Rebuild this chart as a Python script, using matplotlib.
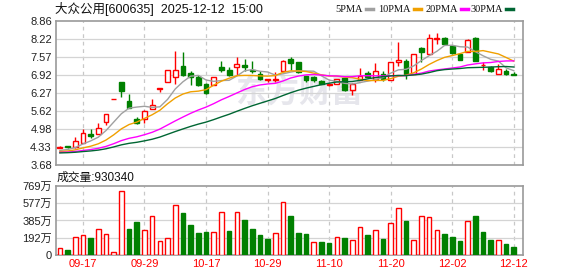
#!/usr/bin/env python3
"""Daily K-line chart for 大众公用 with moving averages and volume."""

import matplotlib
matplotlib.use('Agg')
import matplotlib.pyplot as plt
from matplotlib.lines import Line2D
import numpy as np
import pandas as pd

plt.rcParams['font.family'] = ['Liberation Sans', 'Noto Sans CJK SC']

stock_title = '大众公用[600635]  2025-12-12  15:00'

dates = ['09-12', '09-15', '09-16', '09-17', '09-18', '09-19', '09-22', '09-23',
         '09-24', '09-25', '09-26', '09-29', '09-30', '10-09', '10-10', '10-13',
         '10-14', '10-15', '10-16', '10-17', '10-20', '10-21', '10-22', '10-23',
         '10-24', '10-27', '10-28', '10-29', '10-30', '10-31', '11-03', '11-04',
         '11-05', '11-06', '11-07', '11-10', '11-11', '11-12', '11-13', '11-14',
         '11-17', '11-18', '11-19', '11-20', '11-21', '11-24', '11-25', '11-26',
         '11-27', '11-28', '12-01', '12-02', '12-03', '12-04', '12-05', '12-08',
         '12-09', '12-10', '12-11', '12-12']

opens = [4.30, 4.36, 4.32, 4.48, 4.79, 4.80, 5.22, 6.05, 6.66, 6.00,
         5.32, 5.33, 5.71, 6.43, 6.68, 6.86, 7.23, 7.00, 6.85, 6.58,
         6.56, 7.21, 7.10, 7.21, 7.27, 7.11, 6.97, 6.75, 6.73, 7.07,
         7.48, 7.37, 6.88, 6.84, 6.71, 6.56, 6.61, 6.80, 6.36, 6.73,
         6.99, 6.78, 6.95, 6.74, 7.38, 7.41, 6.97, 7.89, 7.68, 8.22,
         8.26, 7.95, 7.68, 7.76, 8.24, 7.27, 7.20, 6.97, 7.07, 6.95]
highs = [4.35, 4.37, 4.68, 4.97, 4.97, 5.18, 5.51, 6.05, 6.66, 6.23,
         5.40, 5.66, 6.07, 6.43, 7.08, 7.78, 7.75, 7.05, 6.90, 6.62,
         6.84, 7.42, 7.19, 7.56, 7.48, 7.42, 7.07, 6.78, 7.04, 7.45,
         7.57, 7.40, 6.89, 6.87, 6.72, 6.64, 6.79, 6.83, 6.62, 7.16,
         7.07, 7.35, 7.05, 7.40, 8.10, 7.50, 7.67, 7.91, 8.41, 8.42,
         8.27, 7.96, 7.69, 8.20, 8.29, 7.40, 7.23, 7.30, 7.15, 7.03]
lows = [4.29, 4.30, 4.30, 4.46, 4.66, 4.78, 5.11, 6.05, 6.13, 5.73,
        5.15, 5.20, 5.68, 6.32, 6.66, 6.61, 6.88, 6.55, 6.53, 6.25,
        6.54, 7.03, 6.87, 6.91, 7.06, 7.00, 6.73, 6.66, 6.66, 7.05,
        7.11, 7.00, 6.67, 6.66, 6.58, 6.52, 6.58, 6.35, 6.21, 6.72,
        6.85, 6.67, 6.71, 6.72, 7.24, 6.76, 6.95, 7.39, 7.66, 8.05,
        7.98, 7.66, 7.45, 7.74, 7.42, 7.10, 7.03, 6.96, 6.91, 6.91]
closes = [4.33, 4.31, 4.53, 4.82, 4.74, 5.01, 5.50, 6.05, 6.33, 5.74,
          5.20, 5.64, 5.85, 6.43, 7.08, 7.08, 6.93, 6.86, 6.56, 6.26,
          6.83, 7.08, 6.90, 7.33, 7.20, 7.05, 6.78, 6.77, 6.77, 7.43,
          7.36, 7.02, 6.72, 6.74, 6.60, 6.59, 6.78, 6.38, 6.60, 6.87,
          6.86, 7.05, 6.76, 7.38, 7.46, 6.97, 7.66, 7.73, 8.24, 8.25,
          8.02, 7.70, 7.46, 8.18, 7.43, 7.28, 7.06, 7.13, 6.97, 6.92]

# closes before the visible window (needed for the moving averages)
pre_closes = [4.05, 4.07, 4.06, 4.08, 4.09, 4.07, 4.06, 4.08, 4.10, 4.09,
              4.08, 4.10, 4.09, 4.11, 4.10, 4.12, 4.11, 4.09, 4.10, 4.12,
              4.13, 4.11, 4.12, 4.14, 4.13, 4.15, 4.18, 4.17, 4.19]

# volume in 万股
volumes = [81, 59, 200, 222, 192, 292, 233, 30, 710, 292,
           370, 281, 433, 155, 189, 555, 470, 336, 248, 259,
           255, 477, 270, 477, 392, 292, 225, 181, 244, 588,
           436, 248, 237, 144, 148, 137, 203, 192, 170, 311,
           225, 281, 174, 355, 521, 381, 166, 433, 421, 281,
           237, 203, 159, 381, 436, 259, 170, 170, 126, 93.034]

ma_periods = [5, 10, 20, 30]
ma_names = ['5PMA', '10PMA', '20PMA', '30PMA']
ma_colors = ['#a0a0a0', '#f0a000', '#ff00ff', '#006633']

price_labels = ['3.68', '4.33', '4.98', '5.62', '6.27', '6.92', '7.57', '8.22', '8.86']
vol_labels = ['0', '192万', '385万', '577万', '769万']

RED = '#ff0000'
GREEN = '#008000'
GRID = '#d4d4d4'
FRAME = '#9a9a9a'

o = np.array(opens)
h = np.array(highs)
l = np.array(lows)
c = np.array(closes)
x = np.arange(len(c))

fig = plt.figure(figsize=(5.78, 2.76), dpi=100)
ax = fig.add_axes([0.0969, 0.4022, 0.808, 0.5217])
axv = fig.add_axes([0.0969, 0.0761, 0.808, 0.25])

# watermark
ax.text(0.52, 0.49, '东方财富', transform=ax.transAxes, ha='center', va='center',
        fontsize=23, fontweight='bold', color='#e6e6ec', zorder=0)

# candles
up = c >= o
ax.vlines(x, l, h, colors=np.where(up, RED, GREEN), linewidth=1, zorder=2)
ax.bar(x, np.maximum(np.abs(c - o), 0.004), bottom=np.minimum(o, c), width=0.62,
       color=np.where(up, 'white', GREEN), edgecolor=np.where(up, RED, GREEN),
       linewidth=1, zorder=3)

# moving averages
all_close = pd.Series(pre_closes + closes)
for n, col in zip(ma_periods, ma_colors):
    ma = all_close.rolling(n).mean().iloc[len(pre_closes):].values
    ax.plot(x, ma, color=col, linewidth=1, zorder=4)

# volume, coloured by change from previous close
prev = np.concatenate([[pre_closes[-1]], c[:-1]])
vup = c >= prev
axv.bar(x, volumes, width=0.6, color=np.where(vup, 'white', GREEN),
        edgecolor=np.where(vup, RED, GREEN), linewidth=1, zorder=3)

price_ticks = np.linspace(3.68, 8.86, len(price_labels))
vol_ticks = np.linspace(0, 769, len(vol_labels))
tick_pos = x[3::8]

for a in (ax, axv):
    a.set_xlim(-0.5, 60.2)
    for s in a.spines.values():
        s.set_color(FRAME)
        s.set_linewidth(1.2)
    a.tick_params(length=0, labelsize=8, colors='#222222', pad=3)
    a.set_xticks(tick_pos)
    for t in tick_pos:
        a.axvline(t, color='#c8c8c8', linestyle=(0, (3, 3)), linewidth=0.9, zorder=1)

ax.set_ylim(3.68, 8.86)
ax.set_yticks(price_ticks)
ax.set_yticklabels(price_labels)
ax.set_xticklabels([])
for v in price_ticks[1:-1]:
    ax.axhline(v, color=GRID, linewidth=0.9, zorder=1)

axv.set_ylim(0, 769)
axv.set_yticks(vol_ticks)
axv.set_yticklabels(vol_labels)
axv.set_xticklabels([dates[i] for i in tick_pos], color=RED)
for v in vol_ticks[1:-1]:
    axv.axhline(v, color=GRID, linewidth=0.9, zorder=1)

# header texts
fig.text(55 / 578, 1 - 9 / 276, stock_title, fontsize=9, va='center', ha='left',
         color='#111111')
fig.text(57 / 578, 1 - 178 / 276, '成交量:%d' % round(volumes[-1] * 10000),
         fontsize=8.5, va='center', ha='left', color='#111111')

dash_x = [365, 413, 460, 505]
for name, col, dx in zip(ma_names, ma_colors, dash_x):
    fig.text((dx - 2) / 578, 1 - 9 / 276, name, fontsize=7.5, va='center', ha='right',
             family=['Liberation Serif'], color='#111111')
    fig.add_artist(Line2D([(dx + 1) / 578, (dx + 8) / 578], [1 - 9 / 276, 1 - 9 / 276],
                          color=col, linewidth=2.5, transform=fig.transFigure))

fig.savefig('out.png', dpi=100)
